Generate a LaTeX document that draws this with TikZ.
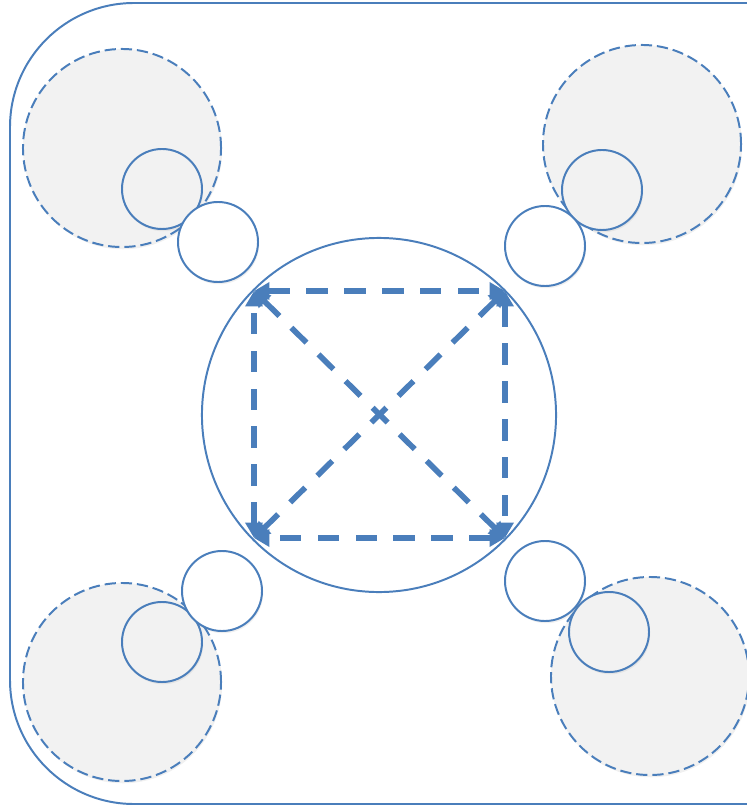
\documentclass[tikz,border=0pt]{standalone}
\usetikzlibrary{arrows.meta,shadows}
\definecolor{lineblue}{HTML}{4A7EBB}
\definecolor{padgray}{HTML}{F2F2F2}
\begin{document}
\begin{tikzpicture}[x=0.025cm,y=-0.025cm,
  soft/.style={drop shadow={opacity=0.12, shadow xshift=0.8pt, shadow yshift=-1.6pt}},
  zone/.style={circle, draw=lineblue, fill=padgray, soft, line width=1.4pt, dash pattern=on 8pt off 3.5pt, minimum size=4.95cm, inner sep=0pt},
  pad/.style={circle, draw=lineblue, fill=padgray, soft, line width=1.4pt, minimum size=2cm, inner sep=0pt},
  ring/.style={circle, draw=lineblue, fill=white, soft, line width=1.4pt, minimum size=2cm, inner sep=0pt},
  link/.style={draw=lineblue, line width=4pt, dash pattern=on 15pt off 12pt, {Triangle[length=11pt,width=12pt]}-{Triangle[length=11pt,width=12pt]}}]
\useasboundingbox (0,0) rectangle (747,807);
\clip (0,0) rectangle (747,807);
% frame
\draw[lineblue, line width=1.4pt, rounded corners=3.1cm] (790,3) -- (10,3) -- (10,804) -- (790,804);
% corner zones
\node[zone] (ztl) at (122,148) {};
\node[zone] (ztr) at (642,144) {};
\node[zone] (zbl) at (122,682) {};
\node[zone] (zbr) at (650,676) {};
\node[pad] (ptl) at (162,189) {};
\node[pad] (ptr) at (602,190) {};
\node[pad] (pbl) at (162,642) {};
\node[pad] (pbr) at (609,632) {};
\node[ring] (rtl) at (218,242) {};
\node[ring] (rtr) at (545,246) {};
\node[ring] (rbl) at (222,591) {};
\node[ring] (rbr) at (545,581) {};
% hub
\node[circle, draw=lineblue, line width=1.4pt, minimum size=8.85cm, inner sep=0pt] (hub) at (379,415) {};
\coordinate (a) at (254,291);
\coordinate (b) at (505,291);
\coordinate (c) at (505,538);
\coordinate (d) at (254,538);
\draw[link] (a) -- (b);
\draw[link] (b) -- (c);
\draw[link] (c) -- (d);
\draw[link] (d) -- (a);
\draw[link] (a) -- (c);
\draw[link] (b) -- (d);
\end{tikzpicture}
\end{document}
